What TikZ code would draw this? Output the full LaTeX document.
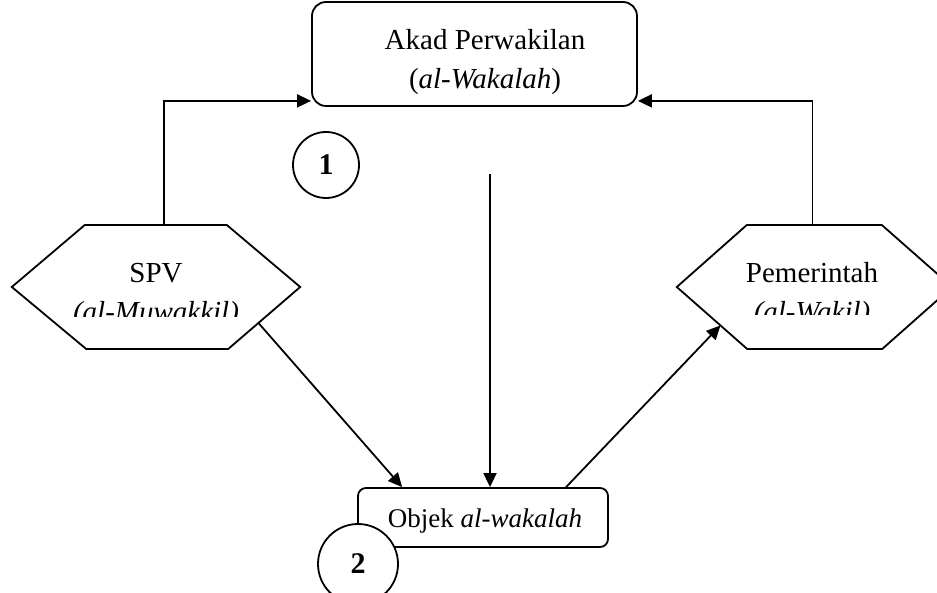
\documentclass[tikz,border=0pt]{standalone}
\usepackage{fontspec}
\setmainfont{Liberation Serif}
\usetikzlibrary{arrows.meta,calc}

\begin{document}
\begin{tikzpicture}[x=1pt,y=1pt,
	rbox/.style={draw, line width=1.8pt, inner sep=0pt},
	hexnode/.style={inner sep=0pt, minimum height=124pt},
	txt/.style={anchor=base, inner sep=0pt, font=\fontsize{29}{40}\selectfont},
	numcirc/.style={draw, circle, fill=white, line width=1.8pt, inner sep=0pt, font=\fontsize{30}{34}\selectfont\bfseries},
	arr/.style={-{Triangle[length=14pt,width=13pt]}, line width=1.8pt}]
		\useasboundingbox (0,0) rectangle (937,593);
		% top contract box
		\node[rbox, rounded corners=14pt, minimum width=325pt, minimum height=104pt] (akad) at (474.5,539) {};
		\node[txt] (akad1) at (485,543) {Akad Perwakilan};
		\node[txt] (akad2) at (485,504) {(\textit{al-Wakalah})};
		% object box
		\node[rbox, rounded corners=8pt, minimum width=250pt, minimum height=59pt] (objek) at (483,75.5) {};
		\node[txt, font=\fontsize{27}{36}\selectfont] (objtxt) at (485,65) {Objek \textit{al-wakalah}};
		% parties
		\node[hexnode, minimum width=288pt] (spv) at (156,306) {};
		\draw[line width=1.8pt] (spv.west) -- ++(73,62) -- ++(142,0) -- (spv.east) -- ++(-72,-62) coordinate (spv-se) -- ++(-142,0) -- cycle;
		\node[txt] (spv1) at (156,310) {SPV};
		\begin{scope}
			\clip (0,276) rectangle (330,400);
			\node[txt] (spv2) at (156,271) {\textit{(al-Muwakkil)}};
		\end{scope}
		\node[hexnode, minimum width=275pt] (pem) at (814.5,306) {};
		\draw[line width=1.8pt] (pem.west) -- ++(70,62) -- ++(135,0) -- (pem.east) -- ++(-70,-62) -- ++(-135,0) coordinate (pem-sw) -- cycle;
		\node[txt] (pem1) at (812,310) {Pemerintah};
		\begin{scope}
			\clip (650,278) rectangle (937,400);
			\node[txt] (pem2) at (812,271) {\textit{(al-Wakil)}};
		\end{scope}
		% connectors
		\draw[arr] ([xshift=8pt]spv.north) |- ([yshift=6pt]akad.south west);
		\draw[arr] ([xshift=-2pt]pem.north) |- ([yshift=6pt]akad.south east);
		\coordinate (drop) at (490,419);
		\draw[arr] (drop) -- (drop |- objek.north);
		\draw[arr] ($(spv.east)!0.58!(spv-se)$) -- ([xshift=45pt]objek.north west);
		\draw[arr] ([xshift=209pt]objek.north west) -- ($(pem.west)!0.62!(pem-sw)$);
		% step numbers
		\node[numcirc, minimum size=66pt] (n1) at (326,428) {1};
		\node[numcirc, minimum size=80pt] (n2) at (358,29) {2};
\end{tikzpicture}
\end{document}
